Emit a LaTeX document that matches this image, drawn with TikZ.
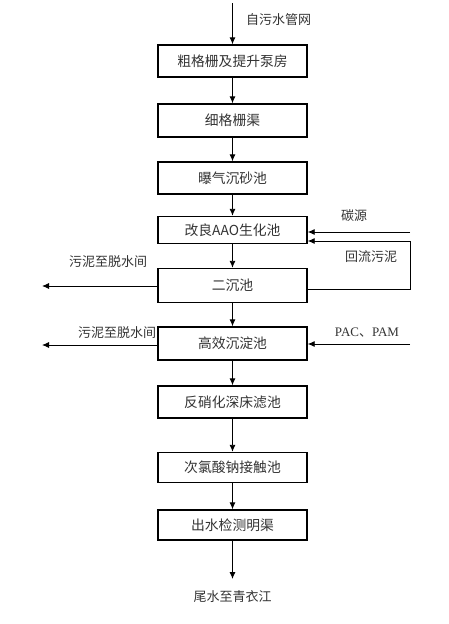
\documentclass[tikz,border=0pt]{standalone}
\usepackage{fontspec}
\setmainfont{Noto Sans CJK SC}
\newfontfamily\latin{Liberation Serif}
\usetikzlibrary{arrows.meta}
\tikzset{box/.style={draw=black, line width=1.4pt, minimum width=149pt, inner sep=0pt, text=black!80, font=\fontsize{13.8}{15}\selectfont},
lbl/.style={inner sep=0pt, text=black!80, font=\fontsize{13}{15}\selectfont},
flow/.style={-{Latex[length=7pt,width=6pt]}, line width=0.9pt}}
\begin{document}
\begin{tikzpicture}[x=1pt, y=-1pt]
\useasboundingbox (0,0) rectangle (449,624);
\node[box, minimum height=32pt] (cushan) at (232.5, 61) {粗格栅及提升泵房};
\node[box, minimum height=33pt] (xishan) at (232.5, 120.5) {细格栅渠};
\node[box, minimum height=32pt] (chensha) at (232.5, 178) {曝气沉砂池};
\node[box, minimum height=27pt] (aao) at (232.5, 230) {改良AAO生化池};
\node[box, minimum height=34pt] (erchen) at (232.5, 285.5) {二沉池};
\node[box, minimum height=33pt] (gaoxiao) at (232.5, 343.5) {高效沉淀池};
\node[box, minimum height=32pt] (lvchi) at (232.5, 402) {反硝化深床滤池};
\node[box, minimum height=30pt] (jiechu) at (232.5, 467.5) {次氯酸钠接触池};
\node[box, minimum height=30pt] (mingqu) at (232.5, 525) {出水检测明渠};
\coordinate (in) at (232.5, 3);
\coordinate (out) at (232.5, 579);
\coordinate (tan) at (410, 232);
\coordinate (pac) at (410, 344);
\coordinate (ni1) at (42, 286);
\coordinate (ni2) at (42, 345);
\node[lbl, anchor=west] (inl) at (246, 20) {自污水管网};
\node[lbl] (outl) at (232.5, 597) {尾水至青衣江};
\node[lbl] (tanl) at (354, 216) {碳源};
\node[lbl] (huil) at (371, 257) {回流污泥};
\node[lbl] (pacl) at (367, 333) {\latin PAC{\fontspec{Noto Sans CJK SC}、}PAM};
\node[lbl] (ni1l) at (108, 262) {污泥至脱水间};
\node[lbl] (ni2l) at (117, 333) {污泥至脱水间};
\draw[flow] (in) -- (cushan);
\draw[flow] (cushan) -- (xishan);
\draw[flow] (xishan) -- (chensha);
\draw[flow] (chensha) -- (aao);
\draw[flow] (aao) -- (erchen);
\draw[flow] (erchen) -- (gaoxiao);
\draw[flow] (gaoxiao) -- (lvchi);
\draw[flow] (lvchi) -- (jiechu);
\draw[flow] (jiechu) -- (mingqu);
\draw[flow] (mingqu) -- (out);
\draw[flow] (tan) -- (tan -| aao.east);
\draw[flow] (pac) -- (pac -| gaoxiao.east);
\draw[flow] (erchen.east |- 0,289) -- (410,289) -- (410,241) -- (aao.east |- 0,241);
\draw[flow] (ni1 -| erchen.west) -- (ni1);
\draw[flow] (ni2 -| gaoxiao.west) -- (ni2);
\end{tikzpicture}
\end{document}
